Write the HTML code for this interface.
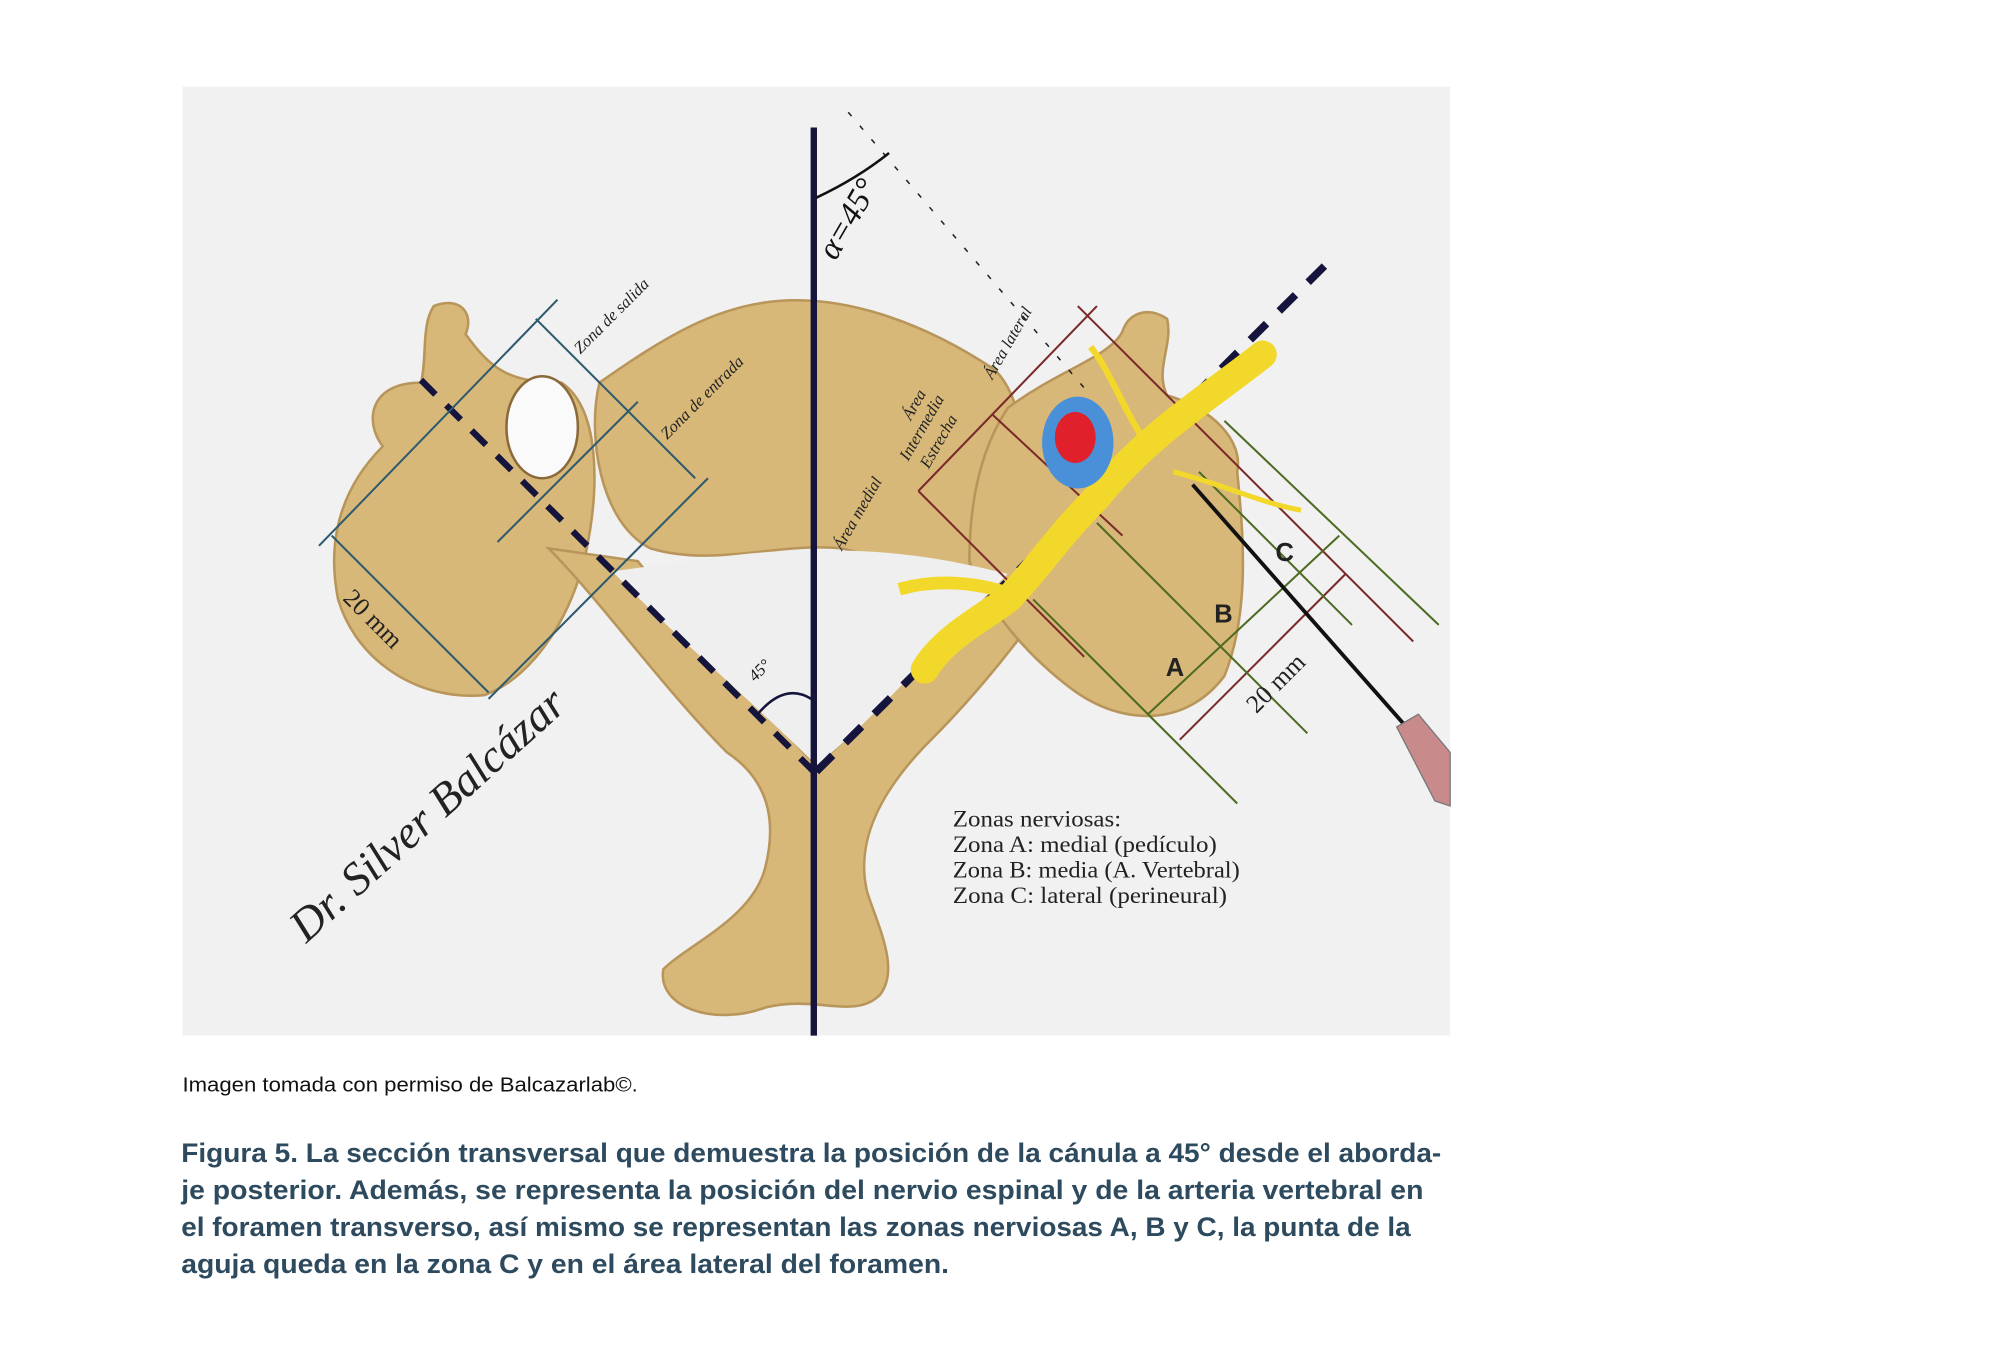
<!DOCTYPE html>
<html><head><meta charset="utf-8"><style>
html,body{margin:0;padding:0;background:#fff;}
svg{display:block;}
</style></head><body>
<svg width="2000" height="1371" viewBox="0 0 1568 1075" xmlns="http://www.w3.org/2000/svg">
<rect width="1568" height="1075" fill="#fff"/>
<rect x="143" y="68" width="994" height="744" fill="#f1f1f1"/>
<g fill="#d8b878" stroke="#b8955a" stroke-width="2">
<path d="M470,300 C520,265 560,240 610,236 C660,232 720,250 780,290 C810,320 810,400 780,440 C740,450 700,440 660,430 C610,425 560,445 510,430 C470,410 460,340 470,300 Z"/>
<path d="M340,240 C360,232 372,245 365,262 C385,290 400,300 440,300 C470,320 470,380 460,430 C450,480 420,530 380,545 C330,550 280,520 265,470 C255,420 270,380 300,350 C285,330 290,300 330,300 C335,280 330,255 340,240 Z"/>
<path d="M430,430 C470,470 520,540 570,590 C600,610 610,640 600,680 C590,720 540,740 520,760 C515,790 560,805 600,790 C640,780 670,800 690,780 C705,760 690,730 680,700 C670,660 690,620 730,580 C770,540 800,500 830,460 L780,440 C740,480 690,560 640,600 C600,560 540,490 500,440 Z"/>
<path d="M790,320 C830,290 870,280 880,260 C885,245 900,240 915,250 C920,270 905,290 915,310 C950,320 975,345 970,370 C975,420 980,480 960,530 C930,570 880,570 840,540 C800,510 770,470 760,440 C760,390 770,350 790,320 Z"/>
</g>
<ellipse cx="425" cy="335" rx="28" ry="40" fill="#fafafa" stroke="#8a6a3a" stroke-width="2"/>
<path d="M480,448 C540,440 600,430 640,432 C700,430 750,440 790,450 C740,500 690,560 640,600 C590,550 530,500 480,448 Z" fill="#efefef"/>
<line x1="638" y1="100" x2="638" y2="812" stroke="#14143c" stroke-width="5"/>
<line x1="330" y1="298" x2="638" y2="605" stroke="#14143c" stroke-width="5" stroke-dasharray="16,12"/>
<line x1="640" y1="605" x2="1042" y2="205" stroke="#14143c" stroke-width="6" stroke-dasharray="18,14"/>
<line x1="665" y1="88" x2="855" y2="310" stroke="#222" stroke-width="1.2" stroke-dasharray="4,10"/>
<path d="M640,155 Q672,140 697,120" fill="none" stroke="#111" stroke-width="2"/>
<text transform="translate(655,205) rotate(-60)" font-family="Liberation Serif,serif" font-style="italic" font-size="26" fill="#111">α=45°</text>
<path d="M594,560 Q615,535 636,548" fill="none" stroke="#14143c" stroke-width="2"/>
<text transform="translate(592,535) rotate(-45)" font-family="Liberation Serif,serif" font-style="italic" font-size="13" fill="#111">45°</text>
<g stroke="#2e5a6e" stroke-width="1.6" fill="none">
<line x1="250" y1="428" x2="437" y2="235"/>
<line x1="390" y1="425" x2="500" y2="315"/>
<line x1="383" y1="548" x2="555" y2="375"/>
<line x1="260" y1="420" x2="383" y2="543"/>
<line x1="420" y1="250" x2="545" y2="375"/>
</g>
<text transform="translate(268,470) rotate(45)" font-family="Liberation Serif,serif" font-size="20" fill="#222">20 mm</text>
<text transform="translate(455,278) rotate(-45)" font-family="Liberation Serif,serif" font-style="italic" font-size="13" fill="#222">Zona de salida</text>
<text transform="translate(523,345) rotate(-45)" font-family="Liberation Serif,serif" font-style="italic" font-size="13" fill="#222">Zona de entrada</text>
<g stroke="#7a2a2a" stroke-width="1.6" fill="none">
<line x1="845" y1="240" x2="1108" y2="503"/>
<line x1="720" y1="385" x2="860" y2="240"/>
<line x1="720" y1="385" x2="850" y2="515"/>
<line x1="778" y1="325" x2="880" y2="420"/>
<line x1="925" y1="580" x2="1055" y2="450"/>
</g>
<g stroke="#4d6b22" stroke-width="1.6" fill="none">
<line x1="960" y1="330" x2="1128" y2="490"/>
<line x1="900" y1="560" x2="1050" y2="420"/>
<line x1="810" y1="470" x2="970" y2="630"/>
<line x1="860" y1="410" x2="1025" y2="575"/>
<line x1="940" y1="370" x2="1060" y2="490"/>
</g>
<text transform="translate(985,560) rotate(-45)" font-family="Liberation Serif,serif" font-size="20" fill="#222">20 mm</text>
<text transform="translate(660,432) rotate(-60)" font-family="Liberation Serif,serif" font-style="italic" font-size="13" fill="#222">Área medial</text>
<text transform="translate(714,330) rotate(-60)" font-family="Liberation Serif,serif" font-style="italic" font-size="13" fill="#222">Área</text>
<text transform="translate(712,362) rotate(-60)" font-family="Liberation Serif,serif" font-style="italic" font-size="13" fill="#222">Intermedia</text>
<text transform="translate(728,368) rotate(-60)" font-family="Liberation Serif,serif" font-style="italic" font-size="13" fill="#222">Estrecha</text>
<text transform="translate(778,298) rotate(-60)" font-family="Liberation Serif,serif" font-style="italic" font-size="13" fill="#222">Área lateral</text>
<path d="M990,278 C950,310 900,340 860,390 C830,420 810,450 790,470 C770,485 740,500 725,525" fill="none" stroke="#f2d82a" stroke-width="22" stroke-linecap="round"/>
<path d="M790,465 C760,455 730,455 705,462" fill="none" stroke="#f2d82a" stroke-width="10"/>
<path d="M900,350 C880,320 870,290 855,272" fill="none" stroke="#f2d82a" stroke-width="5"/>
<path d="M920,370 C960,380 990,395 1020,400" fill="none" stroke="#f2d82a" stroke-width="4"/>
<ellipse cx="845" cy="347" rx="28" ry="36" fill="#4a90d8"/>
<ellipse cx="843" cy="343" rx="16" ry="20" fill="#e0202a"/>
<line x1="935" y1="380" x2="1100" y2="567" stroke="#111" stroke-width="3"/>
<path d="M1095,570 L1112,560 L1137,590 L1137,632 L1125,628 Z" fill="#c88a8a" stroke="#777"/>
<text x="914" y="530" font-family="Liberation Sans,sans-serif" font-weight="bold" font-size="20" fill="#222">A</text>
<text x="952" y="488" font-family="Liberation Sans,sans-serif" font-weight="bold" font-size="20" fill="#222">B</text>
<text x="1000" y="440" font-family="Liberation Sans,sans-serif" font-weight="bold" font-size="20" fill="#222">C</text>
<g font-family="Liberation Serif,serif" font-size="18" fill="#222">
<text x="747" y="648" textLength="132" lengthAdjust="spacingAndGlyphs">Zonas nerviosas:</text>
<text x="747" y="668" textLength="207" lengthAdjust="spacingAndGlyphs">Zona A: medial (pedículo)</text>
<text x="747" y="688" textLength="225" lengthAdjust="spacingAndGlyphs">Zona B: media (A. Vertebral)</text>
<text x="747" y="708" textLength="215" lengthAdjust="spacingAndGlyphs">Zona C: lateral (perineural)</text>
</g>
<text transform="translate(240,740) rotate(-42)" font-family="Liberation Serif,serif" font-style="italic" font-size="36" fill="#222">Dr. Silver Balcázar</text>
<text x="143" y="856" font-family="Liberation Sans,sans-serif" font-size="16" fill="#111" textLength="357" lengthAdjust="spacingAndGlyphs">Imagen tomada con permiso de Balcazarlab©.</text>
<g font-family="Liberation Sans,sans-serif" font-weight="bold" font-size="21" fill="#2d4a5e">
<text x="142" y="911" textLength="988" lengthAdjust="spacingAndGlyphs">Figura 5. La sección transversal que demuestra la posición de la cánula a 45° desde el aborda-</text>
<text x="142" y="940" textLength="974" lengthAdjust="spacingAndGlyphs">je posterior. Además, se representa la posición del nervio espinal y de la arteria vertebral en</text>
<text x="142" y="969" textLength="964" lengthAdjust="spacingAndGlyphs">el foramen transverso, así mismo se representan las zonas nerviosas A, B y C, la punta de la</text>
<text x="142" y="998" textLength="602" lengthAdjust="spacingAndGlyphs">aguja queda en la zona C y en el área lateral del foramen.</text>
</g>
</svg>
</body></html>
